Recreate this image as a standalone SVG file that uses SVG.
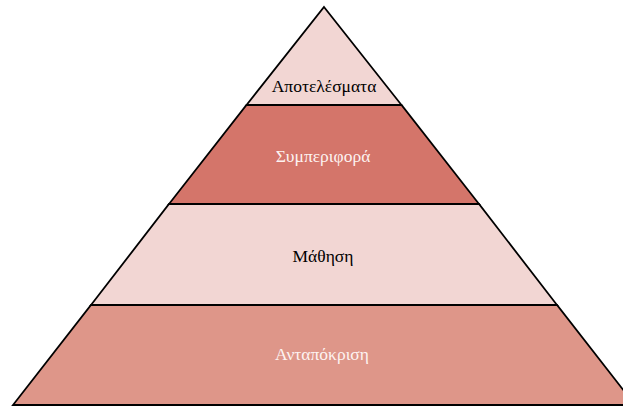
<svg xmlns="http://www.w3.org/2000/svg" width="623" height="407" viewBox="0 0 623 407">
  <style>
    .tier { stroke: #000; stroke-width: 1.8; stroke-linejoin: miter; }
    .label { font-family: "Liberation Serif", "DejaVu Serif", serif; font-size: 17.5px; text-anchor: middle; }
    .dark { fill: #000; }
    .light { fill: #fdf3f1; }
  </style>
  <rect width="623" height="407" fill="#fff"/>
  <g id="tier-outcomes">
    <polygon class="tier" fill="#f2d6d3" points="324,7 401.5,105 246.5,105"/>
    <text class="label dark" x="324" y="92">Αποτελέσματα</text>
  </g>
  <g id="tier-behaviour">
    <polygon class="tier" fill="#d4756a" points="246.5,105 401.5,105 479,204 169,204"/>
    <text class="label light" x="323" y="162">Συμπεριφορά</text>
  </g>
  <g id="tier-learning">
    <polygon class="tier" fill="#f2d6d3" points="169,204 479,204 557,305 91,305"/>
    <text class="label dark" x="323" y="262">Μάθηση</text>
  </g>
  <g id="tier-reaction">
    <polygon class="tier" fill="#de9689" points="91,305 557,305 635,405 13,405"/>
    <text class="label light" x="322" y="360">Ανταπόκριση</text>
  </g>
</svg>
